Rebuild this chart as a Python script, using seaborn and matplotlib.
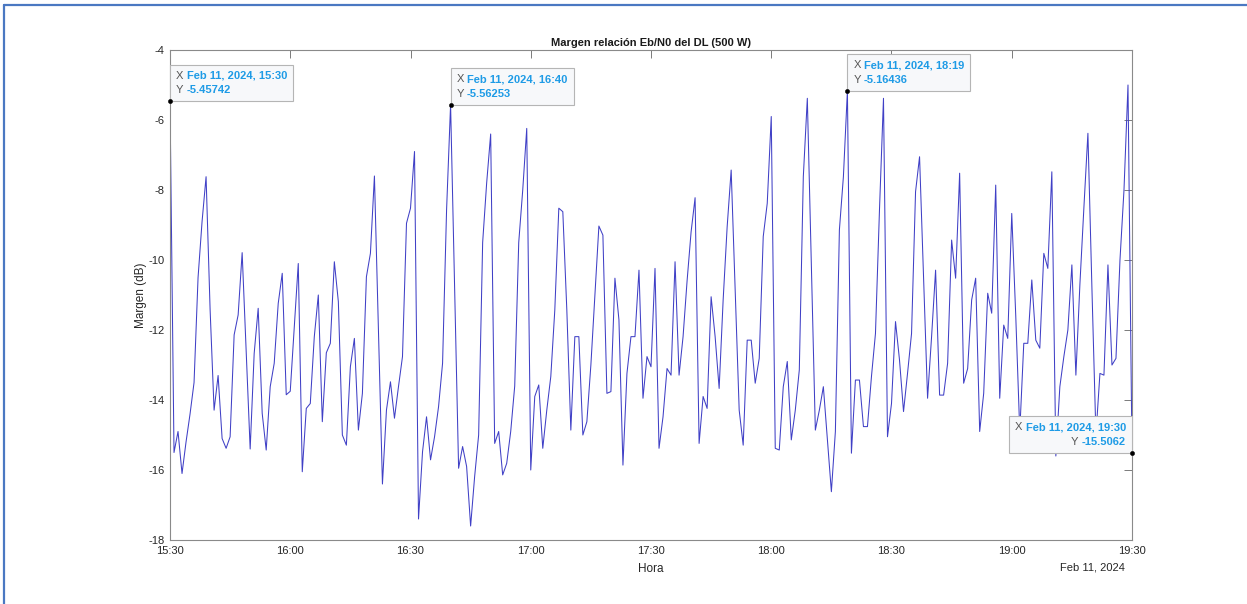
import numpy as np
import pandas as pd
import matplotlib
matplotlib.use("Agg")
import matplotlib.pyplot as plt
import matplotlib.dates as mdates
import seaborn as sns
from matplotlib.offsetbox import TextArea, HPacker, VPacker, AnnotationBbox
from matplotlib.lines import Line2D

# ---------------- data (1-minute samples, 15:30 -> 19:30) ----------------
seg_1530 = [-5.45742, -15.5, -14.9, -16.1, -15.2, -14.4, -13.5, -10.5, -8.9, -7.62,
            -11.4, -14.29, -13.3, -15.1, -15.38, -15.05, -12.14, -11.57, -9.79, -12.6,
            -15.4, -12.67, -11.38, -14.38, -15.43, -13.62, -12.95, -11.24, -10.38, -13.85,
            -13.75, -11.9, -10.1, -16.05, -14.24, -14.1, -12.19, -11.0, -14.62, -12.65,
            -12.38, -10.05, -11.19, -15.0, -15.29, -13.05, -12.24, -14.86, -13.81, -10.48,
            -9.81, -7.6, -12.0, -16.4, -14.29, -13.48, -14.52, -13.62, -12.76, -8.95]
seg_1630 = [-8.52, -6.9, -17.4, -15.48, -14.48, -15.71, -15.05, -14.19, -12.95, -8.57,
            -5.56253, -10.8, -15.95, -15.33, -15.9, -17.6, -16.19, -15.0, -9.5, -7.8,
            -6.4, -15.24, -14.9, -16.14, -15.81, -14.9, -13.6, -9.5, -8.0, -6.24,
            -16.0, -13.9, -13.57, -15.38, -14.29, -13.33, -11.43, -8.52, -8.62, -11.43,
            -14.86, -12.19, -12.19, -15.0, -14.62, -13.0, -11.0, -9.03, -9.29, -13.81,
            -13.76, -10.52, -11.71, -15.86, -13.24, -12.19, -12.19, -10.29, -13.95, -12.76]
seg_1730 = [-13.05, -10.24, -15.38, -14.48, -13.1, -13.29, -10.05, -13.29, -12.19, -10.6,
            -9.2, -8.22, -15.24, -13.9, -14.24, -11.05, -12.19, -13.67, -11.14, -9.05,
            -7.43, -10.9, -14.29, -15.29, -12.29, -12.29, -13.52, -12.81, -9.33, -8.38,
            -5.9, -15.38, -15.43, -13.62, -12.9, -15.14, -14.29, -13.14, -7.62, -5.38,
            -10.1, -14.86, -14.29, -13.62, -15.14, -16.62, -14.9, -9.14, -7.62, -5.16436,
            -15.52, -13.43, -13.43, -14.76, -14.76, -13.33, -12.1, -8.57, -5.38, -15.05]
seg_1830 = [-14.1, -11.76, -12.86, -14.33, -13.24, -12.1, -8.05, -7.05, -10.5, -13.95,
            -12.19, -10.29, -13.86, -13.86, -12.95, -9.43, -10.52, -7.52, -13.52, -13.1,
            -11.14, -10.52, -14.9, -13.81, -10.95, -11.52, -7.86, -13.95, -11.86, -12.24,
            -8.67, -11.6, -14.9, -12.38, -12.38, -10.57, -12.29, -12.52, -9.81, -10.24,
            -7.48, -15.6, -13.62, -12.76, -12.0, -10.14, -13.29, -10.7, -8.5, -6.38,
            -10.8, -15.0, -13.24, -13.29, -10.14, -13.0, -12.81, -10.0, -8.0, -5.0,
            -15.5062]

tip_times = ["2024-02-11 15:30", "2024-02-11 16:40", "2024-02-11 18:19", "2024-02-11 19:30"]
tip_labels = ["Feb 11, 2024, 15:30", "Feb 11, 2024, 16:40", "Feb 11, 2024, 18:19", "Feb 11, 2024, 19:30"]
tip_values = ["-5.45742", "-5.56253", "-5.16436", "-15.5062"]

y_ticks = [-18, -16, -14, -12, -10, -8, -6, -4]

margin = seg_1530 + seg_1630 + seg_1730 + seg_1830
times = pd.date_range("2024-02-11 15:30", periods=len(margin), freq="min")
df = pd.DataFrame({"Hora": times, "Margen": margin})
tips = pd.DataFrame({"Hora": pd.to_datetime(tip_times),
                     "Margen": [float(v) for v in tip_values]})

# ---------------- style ----------------
sns.set_style("white")
plt.rcParams["font.family"] = ["Liberation Sans", "DejaVu Sans"]
plt.rcParams["axes.unicode_minus"] = False

W, H = 1247, 604
fig = plt.figure(figsize=(W / 100, H / 100), dpi=100)
fig.patch.set_facecolor("white")
ax = fig.add_axes([170 / W, 64 / H, 962 / W, 490 / H])

sns.lineplot(data=df, x="Hora", y="Margen", ax=ax, color="#4040c6", linewidth=0.75)
sns.scatterplot(data=tips, x="Hora", y="Margen", ax=ax, color="black", s=10,
                edgecolor="black", zorder=7, clip_on=False)

ax.set_xlim(times[0], times[-1])
ax.set_ylim(-18, -4)
ax.set_yticks(y_ticks)
ax.xaxis.set_major_locator(mdates.MinuteLocator(byminute=[0, 30]))
ax.xaxis.set_major_formatter(mdates.DateFormatter("%H:%M"))
ax.tick_params(direction="in", length=6, width=0.7, top=True, right=True,
               labelsize=8, color="#7a7a7a", labelcolor="#262626", pad=4)
for s in ax.spines.values():
    s.set_color("#8a8a8a")
    s.set_linewidth(0.8)

ax.set_title("Margen relación Eb/N0 del DL (500 W)", fontsize=8, fontweight="bold",
             color="#1a1a1a", pad=3)
ax.set_xlabel("Hora", fontsize=8.5, color="#262626", labelpad=5)
ax.set_ylabel("Margen (dB)", fontsize=8.5, color="#262626", labelpad=1)
fig.text(1125 / W, 1 - 567 / H, "Feb 11, 2024", fontsize=8, color="#262626",
         ha="right", va="center")

# ---------------- data tips ----------------
blue = "#1e9be6"
gray = "#555555"
fs = 8
box_fs = 8
box_pad = 0.55           # fraction of box_fs (points)
off = box_pad * box_fs   # shift so that the frame corner sits on the point
for i in range(len(tips)):
    right = i == len(tips) - 1
    row_x = HPacker(children=[TextArea("X ", textprops=dict(color=gray, fontsize=fs)),
                              TextArea(tip_labels[i], textprops=dict(color=blue, fontsize=fs,
                                                                     fontweight="bold"))],
                    pad=0, sep=0, align="baseline")
    row_y = HPacker(children=[TextArea("Y ", textprops=dict(color=gray, fontsize=fs)),
                              TextArea(tip_values[i], textprops=dict(color=blue, fontsize=fs,
                                                                     fontweight="bold"))],
                    pad=0, sep=0, align="baseline")
    box = VPacker(children=[row_x, row_y], pad=0, sep=3,
                  align="right" if right else "left")
    ab = AnnotationBbox(box, (tips["Hora"].iloc[i], tips["Margen"].iloc[i]),
                        xybox=(-off if right else off, off), xycoords="data",
                        boxcoords="offset points",
                        box_alignment=(1, 0) if right else (0, 0),
                        frameon=True, fontsize=box_fs, annotation_clip=False,
                        bboxprops=dict(boxstyle=f"square,pad={box_pad}", fc="#f7f8fa",
                                       ec="#b5b5b5", lw=0.8))
    ab.set_zorder(6)
    ax.add_artist(ab)

# ---------------- outer frame of the screenshot ----------------
frame = "#4a78c2"
fig.add_artist(Line2D([4 / W, 1], [1 - 5 / H, 1 - 5 / H], color=frame, lw=1.6,
                      transform=fig.transFigure))
fig.add_artist(Line2D([4 / W, 4 / W], [0, 1 - 5 / H], color=frame, lw=1.6,
                      transform=fig.transFigure))

fig.savefig("out.png", dpi=100)
